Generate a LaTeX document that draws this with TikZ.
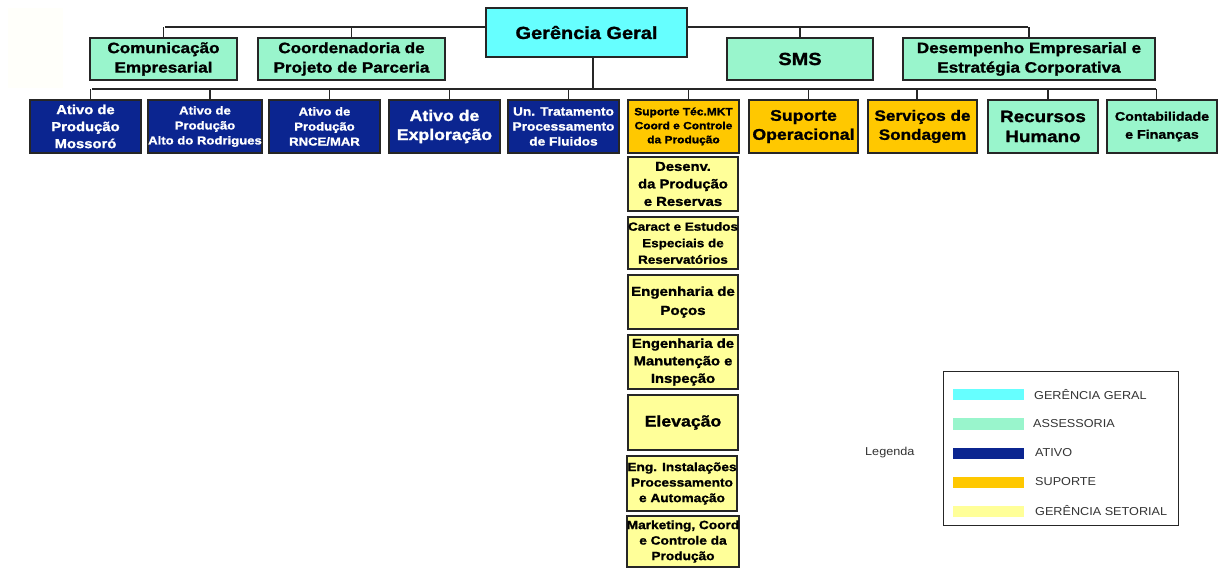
\documentclass[tikz,border=0pt]{standalone}
\usepackage{fontspec}
\setmainfont{Liberation Sans}[BoldFeatures={FakeStretch=1.14, FakeBold=1.3}]
\newfontfamily\legendfont{Liberation Sans}[FakeStretch=1.1]
\usetikzlibrary{calc}
\definecolor{cGeral}{HTML}{66FFFF}
\definecolor{cAssess}{HTML}{99F5CC}
\definecolor{cAtivo}{HTML}{0B2590}
\definecolor{cSuporte}{HTML}{FFC800}
\definecolor{cSetor}{HTML}{FFFF99}
\definecolor{cLine}{HTML}{262626}
\tikzset{
  unit/.style={draw=cLine, line width=1.6pt, inner sep=0pt, align=center},
  geral/.style={unit, fill=cGeral},
  assess/.style={unit, fill=cAssess},
  ativo/.style={unit, fill=cAtivo, text=white},
  suporte/.style={unit, fill=cSuporte},
  setor/.style={unit, fill=cSetor},
  sz/.style 2 args={font=\bfseries\fontsize{#1}{#2}\selectfont},
  wh/.style 2 args={minimum width=#1, minimum height=#2},
  link/.style={draw=cLine, line width=1.6pt},
  swatch/.style={inner sep=0pt, minimum width=71pt, minimum height=11pt},
  legtxt/.style={anchor=west, inner sep=0pt, font=\legendfont\fontsize{11.5}{13}\selectfont, text=black!80},
}
\begin{document}
\begin{tikzpicture}[x=1pt, y=-1pt]
\useasboundingbox (0,0) rectangle (1219,569);
\fill[white] (0,0) rectangle (1219,569);
\fill[yellow!2] (8,8) rectangle (63,88);

% bus lines
\coordinate (busA) at (0,27);
\coordinate (busB) at (0,89);
\draw[link] (165,27) -- (1028,27);
\draw[link] (92,89) -- (1156,89);

% top management and staff units
\node[geral, wh={201}{49}, sz={17.5}{20}] (gg) at (586.5,32.5) {Gerência Geral};
\node[assess, wh={147}{42}, sz={15}{19.5}] (com) at (163.5,59) {Comunicação\\Empresarial};
\node[assess, wh={187}{42}, sz={15}{19.5}] (coord) at (351.5,59) {Coordenadoria de\\Projeto de Parceria};
\node[assess, wh={146}{42}, sz={17.5}{20}] (sms) at (800,59) {SMS};
\node[assess, wh={252}{42}, sz={15}{19.5}] (dese) at (1029,59) {Desempenho Empresarial e\\Estratégia Corporativa};

% second level
\node[ativo, wh={111}{53}, sz={13}{17}] (a1) at (85.5,126.5) {Ativo de\\Produção\\Mossoró};
\node[ativo, wh={110}{53}, sz={11.5}{15}] (a2) at (205,126.5) {Ativo de\\Produção\\Alto do Rodrigues};
\node[ativo, wh={111}{53}, sz={11.5}{15}] (a3) at (324.5,126.5) {Ativo de\\Produção\\RNCE/MAR};
\node[ativo, wh={111}{53}, sz={15.5}{19}] (a4) at (444.5,126.5) {Ativo de\\Exploração};
\node[ativo, wh={111}{53}, sz={12}{15}] (a5) at (563.5,126.5) {Un. Tratamento\\Processamento\\de Fluidos};
\node[suporte, wh={111}{53}, sz={10.5}{14}] (s1) at (683.5,126.5) {Suporte Téc.MKT\\Coord e Controle\\da Produção};
\node[suporte, wh={109}{53}, sz={15.5}{19}] (s2) at (803.5,126.5) {Suporte\\Operacional};
\node[suporte, wh={109}{53}, sz={15}{19}] (s3) at (922.5,126.5) {Serviços de\\Sondagem};
\node[assess, wh={110}{53}, sz={16.5}{20}] (r1) at (1043,126.5) {Recursos\\Humano};
\node[assess, wh={110}{53}, sz={12.5}{18}] (r2) at (1162,126.5) {Contabilidade\\e Finanças};

% sectoral management column
\node[setor, wh={110}{54}, sz={13}{17.5}] (g1) at (683,184) {Desenv.\\da Produção\\e Reservas};
\node[setor, wh={110}{52}, sz={11.8}{16.5}] (g2) at (683,243) {Caract e Estudos\\Especiais de\\Reservatórios};
\node[setor, wh={110}{54}, sz={13.2}{19}] (g3) at (683,302) {Engenharia de\\Poços};
\node[setor, wh={110}{54}, sz={13}{17.5}] (g4) at (683,362) {Engenharia de\\Manutenção e\\Inspeção};
\node[setor, wh={110}{55}, sz={15.5}{19}] (g5) at (683,422.5) {Elevação};
\node[setor, wh={110}{55}, sz={12}{15.5}] (g6) at (682,483.5) {Eng. Instalações\\Processamento\\e Automação};
\node[setor, wh={110}{51}, sz={12}{15.5}] (g7) at (683,541.5) {Marketing, Coord\\e Controle da\\Produção};

% drops from the first bus
\draw[link] (com.north) -- (com.north |- busA);
\draw[link] (coord.north) -- (coord.north |- busA);
\draw[link] (sms.north) -- (sms.north |- busA);
\draw[link] (dese.north) -- (dese.north |- busA);
\draw[link] ([xshift=6.5pt]gg.south) -- ([xshift=6.5pt]gg.south |- busB);

% drops from the second bus
\foreach \n in {a1,a2,a3,a4,a5,s1,s2,r1}
  \draw[link] ([xshift=5pt]\n.north) -- ([xshift=5pt]\n.north |- busB);
\foreach \n in {s3,r2}
  \draw[link] ([xshift=-5.5pt]\n.north) -- ([xshift=-5.5pt]\n.north |- busB);

% legend
\node[draw=cLine, line width=1pt, minimum width=235pt, minimum height=153pt, inner sep=0pt] (leg) at (1060.5,448.5) {};
\node[anchor=west, inner sep=0pt, font=\legendfont\fontsize{11.5}{13}\selectfont, text=black!80] (legt) at (865,453) {Legenda};
\node[swatch, fill=cGeral] (k1) at (988.5,395) {};
\node[swatch, fill=cAssess] (k2) at (988.5,424) {};
\node[swatch, fill=cAtivo] (k3) at (988.5,453) {};
\node[swatch, fill=cSuporte] (k4) at (988.5,482) {};
\node[swatch, fill=cSetor] (k5) at (988.5,511) {};
\node[legtxt] (t1) at (1034,395) {GERÊNCIA GERAL};
\node[legtxt] (t2) at (1033,424) {ASSESSORIA};
\node[legtxt] (t3) at (1035,453) {ATIVO};
\node[legtxt] (t4) at (1035,482) {SUPORTE};
\node[legtxt] (t5) at (1035,511) {GERÊNCIA SETORIAL};
\end{tikzpicture}
\end{document}
